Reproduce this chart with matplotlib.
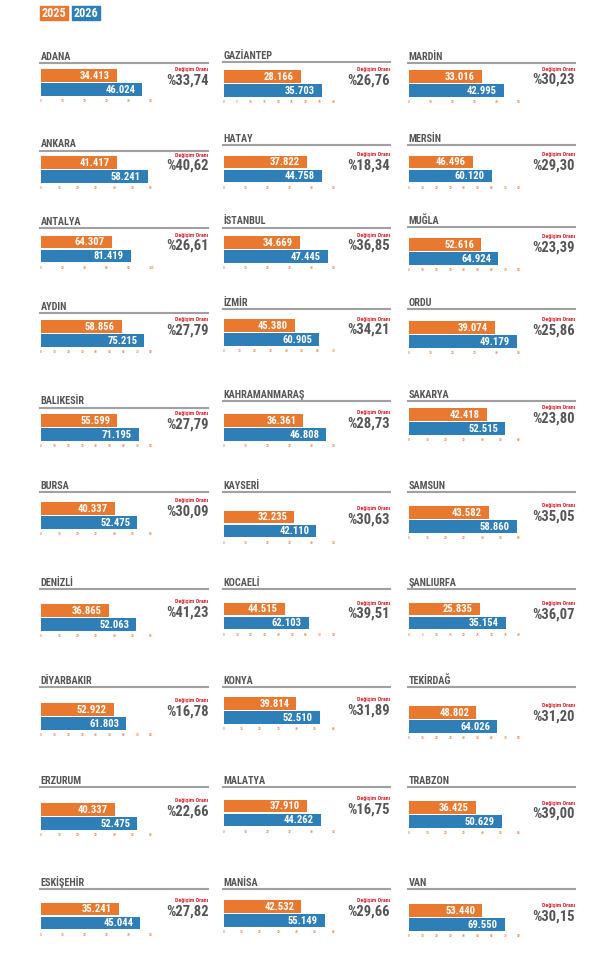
import os
import matplotlib
matplotlib.use("Agg")
import matplotlib.pyplot as plt
from matplotlib import font_manager
from matplotlib.font_manager import FontProperties
from matplotlib.patches import Rectangle
from matplotlib.lines import Line2D

# data, column by column (left column top to bottom, then middle, then right)
cities = ["ADANA", "ANKARA", "ANTALYA", "AYDIN", "BALIKESİR",
          "BURSA", "DENİZLİ", "DİYARBAKIR", "ERZURUM", "ESKİŞEHİR",
          "GAZİANTEP", "HATAY", "İSTANBUL", "İZMİR", "KAHRAMANMARAŞ",
          "KAYSERİ", "KOCAELİ", "KONYA", "MALATYA", "MANİSA",
          "MARDİN", "MERSİN", "MUĞLA", "ORDU", "SAKARYA",
          "SAMSUN", "ŞANLIURFA", "TEKİRDAĞ", "TRABZON", "VAN"]
v2025 = [34413, 41417, 64307, 58856, 55599, 40337, 36865, 52922, 40337, 35241,
         28166, 37822, 34669, 45380, 36361, 32235, 44515, 39814, 37910, 42532,
         33016, 46496, 52616, 39074, 42418, 43582, 25835, 48802, 36425, 53440]
v2026 = [46024, 58241, 81419, 75215, 71195, 52475, 52063, 61803, 52475, 45044,
         35703, 44758, 47445, 60905, 46808, 42110, 62103, 52510, 44262, 55149,
         42995, 60120, 64924, 49179, 52515, 58860, 35154, 64026, 50629, 69550]
change = ["33,74", "40,62", "26,61", "27,79", "27,79", "30,09", "41,23", "16,78", "22,66", "27,82",
          "26,76", "18,34", "36,85", "34,21", "28,73", "30,63", "39,51", "31,89", "16,75", "29,66",
          "30,23", "29,30", "23,39", "25,86", "23,80", "35,05", "36,07", "31,20", "39,00", "30,15"]
axis_max = [50000, 60000, 100000, 80000, 80000, 60000, 60000, 80000, 60000, 50000,
            40000, 50000, 50000, 70000, 50000, 50000, 80000, 60000, 50000, 60000,
            50000, 80000, 80000, 50000, 60000, 60000, 40000, 80000, 60000, 80000]
axis_step = [10000, 10000, 20000, 10000, 10000, 10000, 10000, 10000, 10000, 10000,
             5000, 10000, 10000, 10000, 10000, 10000, 10000, 10000, 10000, 10000,
             10000, 10000, 10000, 10000, 10000, 10000, 5000, 10000, 10000, 10000]
years = ["2025", "2026"]

# layout in pixels, measured from the top of the picture
W, H = 600, 956
col_left = [41, 223.5, 409]
col_right = [208.5, 390, 575]
axis_w = 110
rule_y = [63, 150.5, 228.3, 313.3, 407.7, 492.3, 588.7, 687.3, 787, 888.7,
          62.3, 144.7, 227.7, 309, 400.7, 492.3, 588.7, 687.3, 787, 888.7,
          62.7, 144.7, 227.3, 309, 400.7, 492.3, 588.7, 687.3, 787, 888.7]
bar_top = [69, 156.4, 235.7, 320, 414.3, 502.3, 604.3, 703.3, 803.3, 902.7,
           70, 155.7, 236.3, 319.3, 414.3, 510.7, 602.7, 697.3, 799.7, 900.3,
           70, 155.7, 238.3, 321, 408.3, 506, 602.7, 706, 801.3, 904.3]
note_y = [69.3, 155, 235, 319.7, 413.3, 500.3, 602, 700.7, 800.3, 900.3,
          70, 154.7, 235, 319, 412.7, 508.3, 603, 699.7, 798.3, 900.3,
          69, 154.7, 236.7, 319.7, 407.7, 506, 604, 705.7, 803, 905.7]

orange = "#E8792F"
blue = "#2E7EB7"
grey_text = "#555555"

bar_px = 12.5
gap_px = 1.5
block_px = 2 * bar_px + gap_px
unit = bar_px + gap_px
bar_h = bar_px / unit


def find_narrow_bold():
    # the original uses a condensed bold face; take one if the system has it
    prefs = ["liberationsansnarrow", "robotocondensed", "dejavusanscondensed",
             "opensanscondensed", "notosanscondensed", "condensed", "narrow"]
    files = []
    for f in font_manager.fontManager.ttflist:
        base = os.path.basename(f.fname).lower().replace("-", "").replace("_", "")
        if "italic" in base or "oblique" in base:
            continue
        if "bold" not in base or "semibold" in base or "extrabold" in base:
            continue
        files.append((base, f.fname))
    for p in prefs:
        for base, path in files:
            if p in base:
                return path
    return None


narrow = find_narrow_bold()


def font(size):
    if narrow:
        return FontProperties(fname=narrow, size=size)
    return FontProperties(family=["Liberation Sans", "DejaVu Sans"], weight="bold", size=size)


def fx(px):
    return px / W


def fy(px):
    return 1 - px / H


def fmt(v):
    return f"{v:,}".replace(",", ".")


fig = plt.figure(figsize=(W / 100, H / 100), dpi=100)
renderer = fig.canvas.get_renderer()


def fit(sample, target_px, max_size):
    t = fig.text(0, 0, sample, fontproperties=font(10))
    w = t.get_window_extent(renderer).width
    t.remove()
    return min(max_size, 10 * target_px / w)


size_title = fit("ADANA", 31, 7.4)
size_value = fit("34.413", 30.5, 8.4)
size_pct = fit("%33,74", 43, 10.8)
size_note = fit("Değişim Oranı", 33, 4.6)
size_year = fit("2025", 24.5, 8.7)

# legend boxes
for k, (yr, c) in enumerate(zip(years, [orange, blue])):
    x0 = 40 + k * 31.5
    fig.patches.append(Rectangle((fx(x0), fy(20)), fx(28), 14 / H,
                                 transform=fig.transFigure, color=c))
    fig.text(fx(x0 + 14), fy(13.3), yr, ha="center", va="center",
             color="white", fontproperties=font(size_year))

for i, city in enumerate(cities):
    col = i // 10
    x0 = col_left[col]
    right = col_right[col]

    ax = fig.add_axes([fx(x0), fy(bar_top[i] + block_px), fx(axis_w), block_px / H])
    vals = [v2025[i], v2026[i]]
    ax.barh([0, 1], vals, height=bar_h, color=[orange, blue])
    ax.set_ylim(1 + bar_h / 2, -bar_h / 2)
    ax.set_xlim(0, axis_max[i])
    ticks = list(range(0, axis_max[i] + 1, axis_step[i]))
    ax.set_xticks(ticks)
    ax.set_xticklabels([str(t // 1000) for t in ticks], fontproperties=font(2.6))
    ax.set_yticks([])
    ax.tick_params(axis="x", length=0, pad=2.5, labelcolor="#F0956A")
    for s in ax.spines.values():
        s.set_visible(False)
    ax.patch.set_alpha(0)
    for j, v in enumerate(vals):
        ax.annotate(fmt(v), xy=(v, j), xytext=(-5, -0.3), textcoords="offset points",
                    ha="right", va="center", color="white",
                    fontproperties=font(size_value))

    # city name with rule
    fig.text(fx(x0 - 0.5), fy(rule_y[i] - 1.2), city, ha="left", va="bottom",
             color=grey_text, fontproperties=font(size_title))
    fig.add_artist(Line2D([fx(x0 - 1), fx(right)], [fy(rule_y[i])] * 2,
                          lw=1.5, color="#A0A0A0"))

    fig.text(fx(right), fy(note_y[i]), "Değişim Oranı", ha="right", va="center",
             color="#D9252E", fontproperties=font(size_note))
    fig.text(fx(right), fy(note_y[i] + 11), "%" + change[i], ha="right", va="center",
             color=grey_text, fontproperties=font(size_pct))

fig.savefig("out.png", dpi=100)
